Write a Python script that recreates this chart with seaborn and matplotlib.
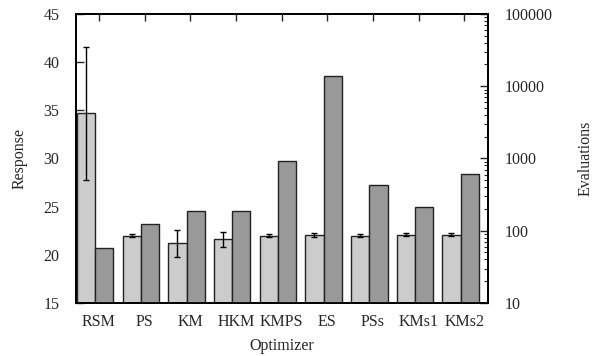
import numpy as np
import pandas as pd
import seaborn as sns
import matplotlib
matplotlib.use("Agg")
import matplotlib.pyplot as plt
from matplotlib.ticker import LogLocator, NullFormatter

optimizers = ['RSM', 'PS', 'KM', 'HKM', 'KMPS', 'ES', 'PSs', 'KMs1', 'KMs2']
response = [34.7, 22.0, 21.2, 21.6, 22.0, 22.1, 22.0, 22.1, 22.1]
response_err = [6.9, 0.2, 1.4, 0.8, 0.15, 0.2, 0.15, 0.15, 0.15]
evaluations = [57, 123, 186, 186, 930, 14000, 425, 210, 610]

pos = np.arange(len(optimizers))
df = pd.DataFrame({'Optimizer': optimizers, 'pos': pos,
                   'Response': response, 'err': response_err,
                   'Evaluations': evaluations})
df['pos_resp'] = df['pos'] - 0.2
df['pos_eval'] = df['pos'] + 0.2

sns.set_style('ticks')
plt.rcParams['font.family'] = ['Liberation Serif', 'DejaVu Serif']
plt.rcParams['font.size'] = 11.5

fig = plt.figure(figsize=(5.95, 3.56), dpi=100)
ax = fig.add_axes([0.1277, 0.1489, 0.6925, 0.8118])
ax2 = ax.twinx()
ax2.set_yscale('log')

sns.barplot(data=df, x='pos_resp', y='Response', native_scale=True, width=0.4,
            color='#cccccc', saturation=1, edgecolor='#222222', linewidth=1,
            errorbar=None, ax=ax)
sns.barplot(data=df, x='pos_eval', y='Evaluations', native_scale=True, width=0.4,
            color='#999999', saturation=1, edgecolor='#222222', linewidth=1,
            errorbar=None, ax=ax2)

ax.errorbar(df['pos_resp'], df['Response'], yerr=df['err'], fmt='none', ecolor='black',
            elinewidth=1, capsize=2.5, capthick=1, zorder=5)

ax.set_ylim(15, 45)
ax.set_yticks(range(15, 46, 5))
ax2.set_ylim(10, 100000)
ax2.yaxis.set_major_locator(LogLocator(base=10, numticks=10))
ax2.yaxis.set_minor_locator(LogLocator(base=10, subs=np.arange(2, 10), numticks=10))
ax2.yaxis.set_minor_formatter(NullFormatter())
ax2.set_yticks([10, 100, 1000, 10000, 100000])
ax2.set_yticklabels(['10', '100', '1000', '10000', '100000'])

ax.set_xlim(-0.42, 8.6)
ax.set_xticks(pos + 0.08)
ax.set_xticklabels(optimizers)
ax.set_xlabel('')

ax.tick_params(axis='x', bottom=False, top=True, direction='in', length=5, width=1, pad=8)
ax.tick_params(axis='y', left=True, right=False, direction='in', length=6, width=1, pad=12)
ax2.tick_params(axis='y', which='major', right=True, direction='in', length=6, width=1, pad=12)
ax2.tick_params(axis='y', which='minor', right=True, direction='in', length=3, width=0.8)
ax.tick_params(labelsize=11.5)
ax2.tick_params(labelsize=11.5)

for a in (ax, ax2):
    for s in a.spines.values():
        s.set_visible(True)
        s.set_linewidth(1.3)
        s.set_color('black')

ax.set_xlabel('Optimizer', fontsize=11.5, labelpad=6)
ax.set_ylabel('Response', fontsize=11.5, labelpad=11)
ax2.set_ylabel('Evaluations', fontsize=11.5, labelpad=18)

fig.savefig('out.png', dpi=100)
